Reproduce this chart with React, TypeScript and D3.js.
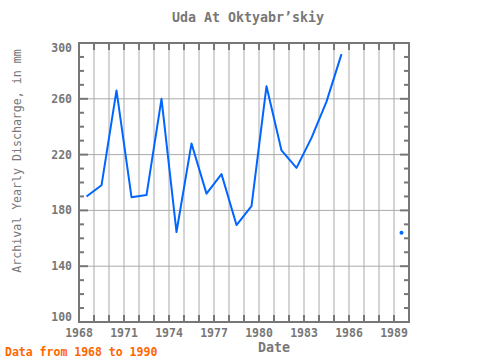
import React from 'react'
import * as d3 from 'd3'

const years = [1968.5, 1969.5, 1970.5, 1971.5, 1972.5, 1973.5, 1974.5, 1975.5, 1976.5, 1977.5,
    1978.5, 1979.5, 1980.5, 1981.5, 1982.5, 1983.5, 1984.5, 1985.5, 1986.5, 1987.5, 1988.5, 1989.5];
const discharge = [190, 198, 266, 189.5, 191, 260, 164.5, 228, 192, 206,
    169.5, 183, 269, 223, 210.5, 232, 258, 292, NaN, NaN, NaN, 164];
const xTickLabels = [1968, 1971, 1974, 1977, 1980, 1983, 1986, 1989];
const yTickLabels = [100, 140, 180, 220, 260, 300];

const margin = {top: 43, right: 71, bottom: 38, left: 79};
const width = 480;
const height = 360;
const font = '"DejaVu Sans Mono", monospace';
const axisColor = '#777';
const gridColor = '#aaa';

export default function App() {
    const x = d3.scaleLinear().domain([1968, 1990]).range([margin.left, width - margin.right]);
    const y = d3.scaleLinear().domain([100, 300]).range([height - margin.bottom, margin.top]);

    const pts = years.map((yr, i) => ({yr, v: discharge[i]}));
    const line = d3.line<{yr: number, v: number}>()
        .defined(d => !isNaN(d.v))
        .x(d => x(d.yr))
        .y(d => y(d.v));

    // isolated points (no defined neighbours) drawn as dots
    const lonely = pts.filter((d, i) => !isNaN(d.v)
        && (i === 0 || isNaN(pts[i - 1].v))
        && (i === pts.length - 1 || isNaN(pts[i + 1].v)));

    const yearTicks = d3.range(1969, 1990);
    const minorY = d3.range(110, 300, 10);
    const [x0, x1] = x.range();
    const [y0, y1] = y.range();

    // end labels are nudged inside the frame
    const labelY = (t: number) => Math.min(Math.max(y(t), y1 + 5), y0 - 5) + 4;

    return (
        <svg width={width} height={height} style={{position: 'absolute', left: 0, top: 0}}>
            <rect width={width} height={height} fill="#fff"/>
            <text x={248} y={22} textAnchor="middle" fontFamily={font} fontSize={13.3}
                  fontWeight="bold" fill="#777">Uda At Oktyabr’skiy</text>

            <g stroke={gridColor} strokeWidth={1}>
                {yearTicks.map(t => <line key={t} x1={x(t)} x2={x(t)} y1={y1} y2={y0}/>)}
                {[140, 180, 220, 260].map(t => <line key={t} x1={x0} x2={x1} y1={y(t)} y2={y(t)}/>)}
            </g>

            <g stroke={axisColor} strokeWidth={2}>
                {yearTicks.map(t => <g key={t}>
                    <line x1={x(t)} x2={x(t)} y1={y0} y2={y0 - 7}/>
                    <line x1={x(t)} x2={x(t)} y1={y1} y2={y1 + 7}/>
                </g>)}
                {minorY.map(t => {
                    const major = t % 40 === 20;
                    return <g key={t}>
                        <line x1={x0} x2={x0 + (major ? 9 : 5)} y1={y(t)} y2={y(t)}/>
                        <line x1={x1} x2={x1 - (major ? 9 : 5)} y1={y(t)} y2={y(t)}/>
                    </g>;
                })}
                <rect x={x0} y={y1} width={x1 - x0} height={y0 - y1} fill="none"/>
            </g>

            <g fontFamily={font} fontSize={11.5} fontWeight="bold" fill="#777">
                {yTickLabels.map(t => <text key={t} x={x0 - 7} y={labelY(t)} textAnchor="end">{t}</text>)}
                {xTickLabels.map(t => <text key={t} x={x(t)} y={337} textAnchor="middle">{t}</text>)}
            </g>

            <text x={274} y={352} textAnchor="middle" fontFamily={font} fontSize={13.3}
                  fontWeight="bold" fill="#777">Date</text>
            <text transform="translate(21,161) rotate(-90)" textAnchor="middle" fontFamily={font}
                  fontSize={11.6} fill="#777">Archival Yearly Discharge, in mm</text>
            <text x={5} y={356} fontFamily={font} fontSize={11.5} fontWeight="bold"
                  fill="#ff6600">Data from 1968 to 1990</text>

            <path d={line(pts) ?? ''} fill="none" stroke="#0066ff" strokeWidth={2}
                  strokeLinejoin="round"/>
            {lonely.map(d => <circle key={d.yr} cx={x(d.yr)} cy={y(d.v)} r={2} fill="#0066ff"/>)}
        </svg>
    );
}
